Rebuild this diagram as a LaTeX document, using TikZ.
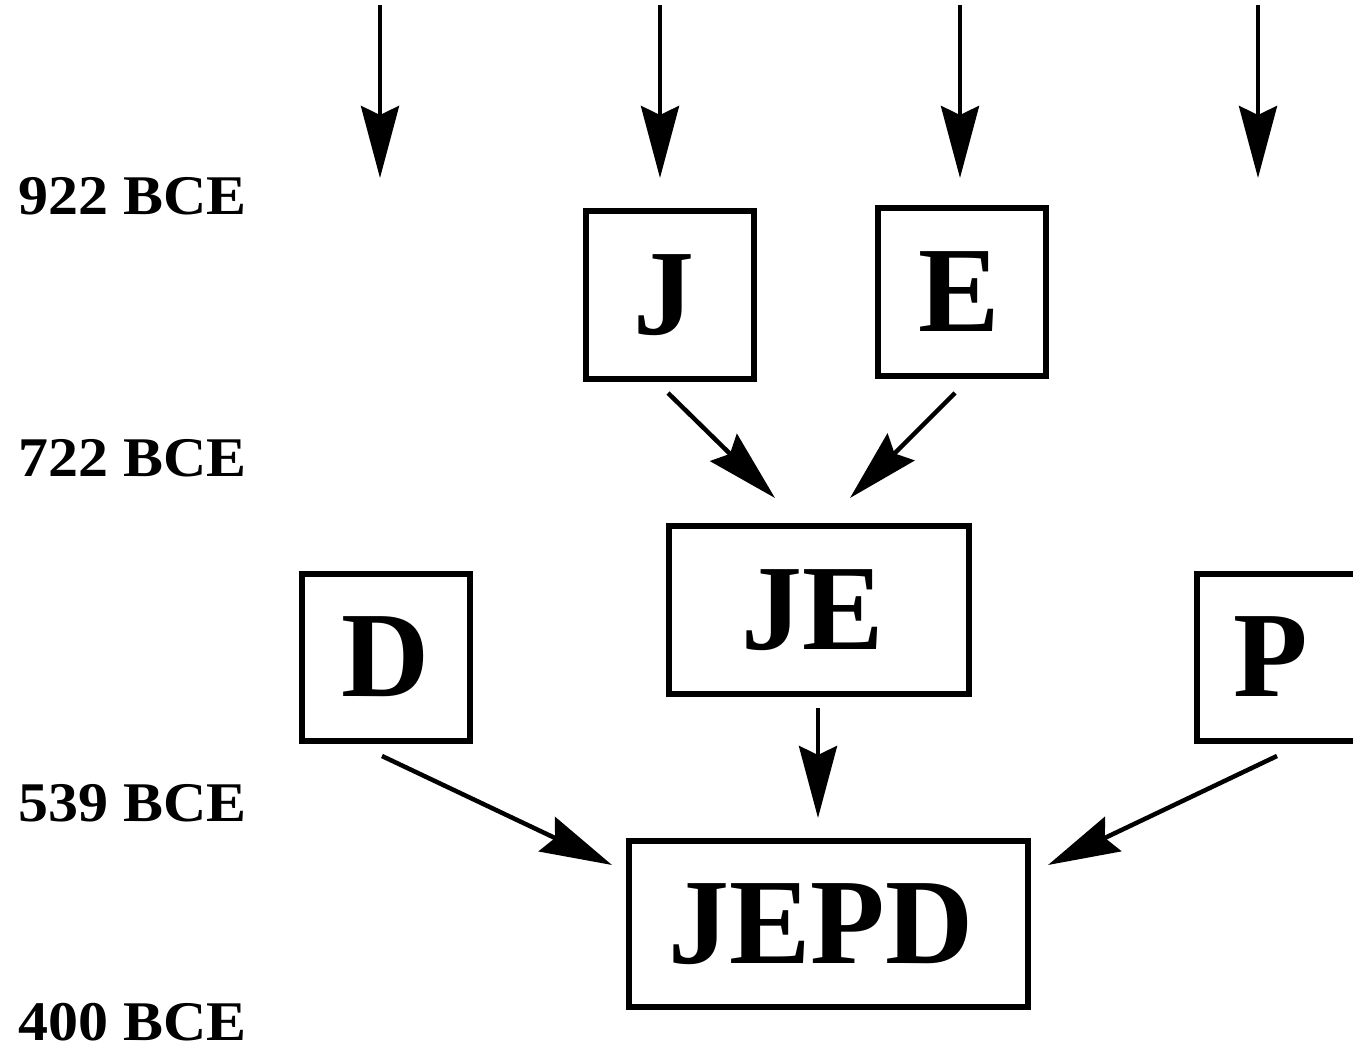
\documentclass[tikz,border=0pt]{standalone}
\usepackage{fontspec}
\setmainfont{Liberation Serif}
\usetikzlibrary{arrows.meta}
\tikzset{
  box/.style={draw=black, line width=6pt, inner sep=0pt, font=\fontsize{122}{122}\selectfont\bfseries},
  era/.style={anchor=base west, inner sep=0pt, font=\fontsize{56}{56}\selectfont\bfseries},
  flow/.style={line width=4.5pt, -{Stealth[length=72pt,width=38pt,inset=9pt]}},
}
\newcommand{\erat}[1]{\scalebox{1.07}[1]{#1}}
\begin{document}
\begin{tikzpicture}[x=1pt,y=-1pt]
\useasboundingbox (0,0) rectangle (1353,1048);
\begin{scope}
\clip (0,0) rectangle (1353,1048);
% era labels
\node[era] (t922) at (18,215) {\erat{922 BCE}};
\node[era] (t722) at (18,477) {\erat{722 BCE}};
\node[era] (t539) at (18,821) {\erat{539 BCE}};
\node[era] (t400) at (18,1040) {\erat{400 BCE}};
% boxes
\node[box, minimum width=168pt, minimum height=168pt] (J) at (670,295) {J\kern12pt};
\node[box, minimum width=168pt, minimum height=168pt] (E) at (962,292) {E\kern5pt};
\node[box, minimum width=300pt, minimum height=167pt] (JE) at (819,610) {JE\kern12pt};
\node[box, minimum width=168pt, minimum height=167pt] (D) at (386,657) {D};
\node[box, minimum width=168pt, minimum height=167pt] (P) at (1281,657) {P\kern20pt};
\node[box, minimum width=399pt, minimum height=166pt] (JEPD) at (828,924) {JEPD\kern14pt};
% arrow endpoints
\coordinate (a1s) at (380,5);   \coordinate (a1e) at (380,178);
\coordinate (a2s) at (660,5);   \coordinate (a2e) at (660,178);
\coordinate (a3s) at (960,5);   \coordinate (a3e) at (960,178);
\coordinate (a4s) at (1258,5);  \coordinate (a4e) at (1258,178);
\coordinate (jo) at (668,393);  \coordinate (ji) at (775,498);
\coordinate (eo) at (955,393);  \coordinate (ei) at (850,498);
\coordinate (jeo) at (818,708); \coordinate (jei) at (818,818);
\coordinate (do) at (382,756);  \coordinate (di) at (612,865);
\coordinate (po) at (1277,756); \coordinate (pi) at (1048,865);
% connectors
\draw[flow] (a1s) -- (a1e);
\draw[flow] (a2s) -- (a2e);
\draw[flow] (a3s) -- (a3e);
\draw[flow] (a4s) -- (a4e);
\draw[flow] (jo) -- (ji);
\draw[flow] (eo) -- (ei);
\draw[flow] (jeo) -- (jei);
\draw[flow] (do) -- (di);
\draw[flow] (po) -- (pi);
\end{scope}
\end{tikzpicture}
\end{document}
